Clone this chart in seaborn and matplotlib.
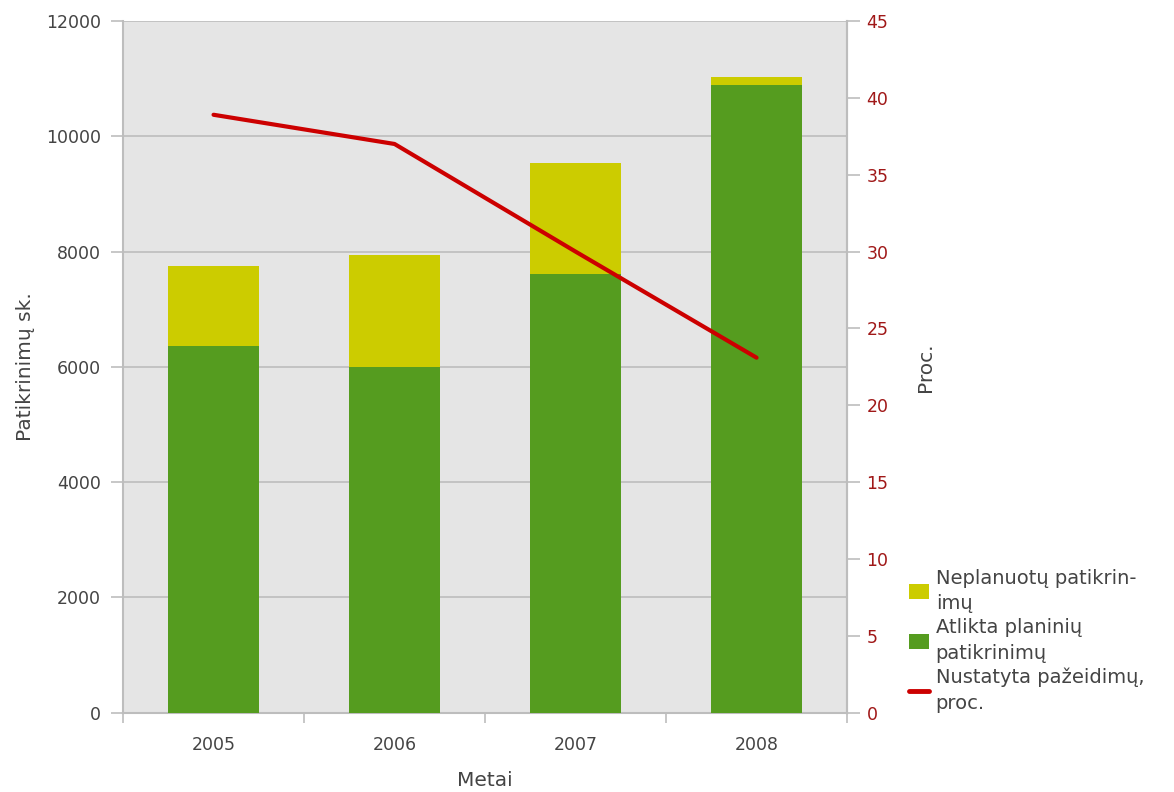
import numpy as np
import pandas as pd
import seaborn as sns
import matplotlib.pyplot as plt
from matplotlib.patches import Patch
from matplotlib.lines import Line2D

# =========================
# Data
# =========================
years = ["2005", "2006", "2007", "2008"]
planned = [6370, 5995, 7610, 10890]       # Atlikta planinių patikrinimų
unplanned = [1385, 1950, 1925, 140]       # Neplanuotų patikrinimų
violations_pct = [38.9, 37.0, 30.0, 23.1]  # Nustatyta pažeidimų, proc.

df = pd.DataFrame({"Metai": years, "planned": planned, "unplanned": unplanned,
                   "pct": violations_pct})
df["total"] = df["planned"] + df["unplanned"]
df["pos"] = range(len(years))

sns.set_theme(style="white")
plt.rcParams["font.family"] = ["DejaVu Sans"]
plt.rcParams["xtick.bottom"] = True
plt.rcParams["ytick.left"] = True

yellow = "#cccc00"
green = "#559c1f"
red = "#cc0000"
grid_c = "#bdbdbd"
text_c = "#444444"

fig = plt.figure(figsize=(11.74, 7.92), dpi=100)
ax = fig.add_axes([0.1048, 0.1, 0.6167, 0.8735])
ax.set_facecolor("#e5e5e5")

# =========================
# Stacked bars
# =========================
sns.barplot(data=df, x="Metai", y="total", color=yellow, width=0.5,
            saturation=1, linewidth=0, ax=ax, zorder=2)
sns.barplot(data=df, x="Metai", y="planned", color=green, width=0.5,
            saturation=1, linewidth=0, ax=ax, zorder=3)

ax.set_ylim(0, 12000)
ax.set_xlim(-0.5, 3.5)
ax.set_yticks(range(0, 12001, 2000))
ax.yaxis.grid(True, color=grid_c, linewidth=1.2, zorder=0)
ax.set_axisbelow(True)

ax.set_xticks([-0.5, 0.5, 1.5, 2.5, 3.5])
ax.set_xticklabels([])
ax.set_xticks(range(len(years)), minor=True)
ax.set_xticklabels(years, minor=True)
ax.tick_params(axis="x", which="major", bottom=True, length=7, color=grid_c,
               width=1.2)
ax.tick_params(axis="x", which="minor", bottom=True, length=0, pad=17,
               labelsize=12.5, labelcolor=text_c)
ax.tick_params(axis="y", left=True, length=9, color=grid_c, width=1.2,
               labelsize=12.5, labelcolor=text_c, pad=7)

ax.spines["top"].set_visible(False)
for side in ["left", "bottom", "right"]:
    ax.spines[side].set_color(grid_c)
    ax.spines[side].set_linewidth(1.5)

ax.set_xlabel("Metai", fontsize=14.5, color=text_c, labelpad=12)
ax.set_ylabel("Patikrinimų sk.", fontsize=14.5, color=text_c, labelpad=8)

# =========================
# Line on the right axis
# =========================
ax2 = ax.twinx()
sns.lineplot(data=df, x="pos", y="pct", color=red, linewidth=3, ax=ax2,
             zorder=5)
ax2.set_ylim(0, 45)
ax2.set_xlim(-0.5, 3.5)
ax2.set_yticks(range(0, 46, 5))
ax2.tick_params(axis="y", right=True, length=9, color=grid_c, width=1.2,
                labelsize=12.5, labelcolor="#a01818", pad=5)
ax2.set_ylabel("Proc.", fontsize=14.5, color=text_c, labelpad=20)
for side in ["top", "left", "bottom"]:
    ax2.spines[side].set_visible(False)
ax2.spines["right"].set_color(grid_c)
ax2.spines["right"].set_linewidth(1.5)

# =========================
# Legend
# =========================
handles = [
    Patch(facecolor=yellow, edgecolor="none", label="Neplanuotų patikrin-\nimų"),
    Patch(facecolor=green, edgecolor="none", label="Atlikta planinių\npatikrinimų"),
    Line2D([0], [0], color=red, linewidth=3.5, label="Nustatyta pažeidimų,\nproc."),
]
leg = fig.legend(handles=handles, loc="upper left",
                 bbox_to_anchor=(0.768, 0.292), frameon=False, fontsize=14,
                 labelcolor=text_c, handlelength=1.0, handleheight=0.8,
                 handletextpad=0.35, labelspacing=0.25, borderaxespad=0)
for t in leg.get_texts():
    t.set_linespacing(1.45)

fig.savefig("out.png", dpi=100)
